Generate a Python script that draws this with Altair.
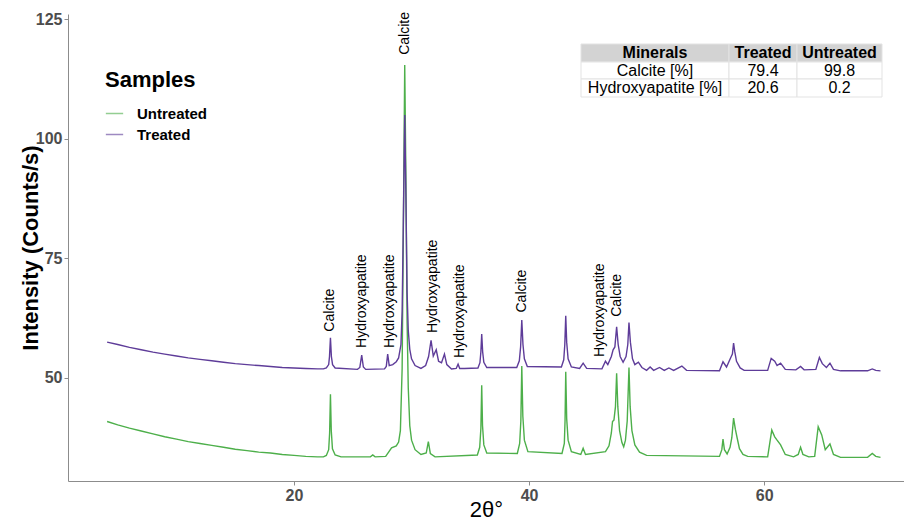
import altair as alt
import pandas as pd

# ---------------- data ----------------
treated_x = [4.1, 5, 6, 7, 8, 9, 10, 11, 12, 13, 14, 15, 16, 17, 18, 19, 20, 21, 22, 22.5,
             22.75, 22.95, 23.02, 23.1, 23.18, 23.28, 23.5, 25.4, 25.6, 25.76, 25.9, 26.1, 27.7, 27.85, 27.97, 28.1,
             28.4, 28.7, 28.9, 29.1, 29.2, 29.3, 29.42, 29.52, 29.62, 29.72, 29.85, 30.0, 30.3, 30.8, 31.2, 31.45, 31.66, 31.85,
             32.1, 32.3, 32.55, 32.8, 33.0, 33.4, 33.8, 33.96, 34.1, 34.5, 35.65, 35.82, 35.9, 35.97, 36.05, 36.15, 36.4,
             38.95, 39.17, 39.28, 39.38, 39.48, 39.6, 39.85, 42.75, 42.95, 43.04, 43.12, 43.2, 43.32, 43.6,
             44.3, 44.6, 44.9, 46.2, 46.5, 46.7, 47.0, 47.15, 47.3, 47.45, 47.58, 47.75, 48.0, 48.25, 48.4, 48.5,
             48.62, 48.8, 49.0, 49.3, 49.6, 50.0, 50.3, 50.6,
             51.1, 51.5, 51.9, 52.3, 53.0, 53.4, 56.2, 56.5, 56.8, 57.2, 57.3, 57.4, 57.5, 57.65, 57.96, 58.3, 60.3,
             60.6, 60.9, 61.1, 61.4, 61.8, 62.7, 63.1, 63.4, 64.4, 64.7, 64.95, 65.3, 65.6, 65.9, 66.5,
             68.8, 69.2, 69.5, 69.9]
treated_y = [57.5, 57.0, 56.4, 55.9, 55.4, 55.0, 54.6, 54.2, 53.9, 53.6, 53.3, 53.0, 52.8, 52.6, 52.4, 52.2, 52.1, 52.0, 51.9, 51.9,
             52.1, 52.8, 54.5, 58.4, 54.5, 52.8, 52.1, 51.8, 52.2, 54.8, 52.3, 51.8, 51.9, 52.4, 55.0, 52.6,
             52.8, 53.4, 54.2, 57.0, 64.0, 82.0, 105.0, 88.0, 68.0, 60.0, 56.0, 54.0, 52.6, 52.0, 52.6, 54.5, 57.9, 54.6,
             55.9, 53.5, 53.2, 55.0, 52.8, 51.9, 52.0, 52.9, 52.0, 52.0, 52.1, 53.2, 55.5, 59.2, 55.5, 53.3, 52.2,
             52.2, 53.6, 56.5, 62.1, 57.0, 54.0, 52.4, 52.3, 53.8, 57.0, 63.0, 57.5, 54.0, 52.3,
             52.0, 53.1, 52.0, 51.9, 53.5, 52.8, 54.5, 55.9, 56.5, 60.7, 57.0, 54.5, 53.3, 54.5, 57.0, 61.6,
             57.5, 54.0, 52.8, 53.3, 52.2, 51.6, 52.3, 51.6,
             52.2, 51.6, 52.1, 51.6, 52.5, 51.6, 51.5, 53.4, 52.3, 54.5, 55.0, 57.3, 55.5, 53.5, 52.1, 51.6, 51.6,
             54.1, 53.5, 52.6, 53.1, 51.8, 51.7, 52.4, 51.7, 51.8, 54.3, 53.0, 52.2, 53.1, 51.8, 51.5,
             51.5, 51.9, 51.6, 51.5]

untreated_x = [4.1, 5, 6, 7, 8, 9, 10, 11, 12, 13, 14, 15, 16, 17, 18, 19, 20, 21, 22, 22.5,
               22.75, 22.95, 23.03, 23.1, 23.17, 23.27, 23.5, 24, 26.5, 26.7, 26.9, 27.8, 28.3, 28.7, 28.9, 29.05,
               29.2, 29.3, 29.42, 29.52, 29.62, 29.72, 29.85, 30.0, 30.3, 30.8, 31.25, 31.43, 31.6, 32.0,
               35.6, 35.8, 35.9, 35.97, 36.04, 36.15, 36.4, 39.0, 39.2, 39.3, 39.38, 39.47, 39.6, 39.9,
               42.8, 43.0, 43.06, 43.12, 43.2, 43.32, 43.6, 44.4, 44.6, 44.8, 46.5, 46.8, 47.0, 47.1,
               47.22, 47.35, 47.45, 47.55, 47.7, 47.9, 48.05, 48.2, 48.35, 48.5, 48.6, 48.75, 49.0, 49.4, 50.0,
               56.2, 56.4, 56.5, 56.62, 56.85, 57.1, 57.25, 57.4, 57.55, 57.7, 57.9, 58.2, 58.6,
               60.3, 60.65, 60.9, 61.1, 61.4, 61.8, 62.5, 62.9, 63.1, 63.3, 63.8, 64.3, 64.6,
               64.9, 65.2, 65.6, 65.9, 66.5, 68.8, 69.2, 69.5, 69.9]
untreated_y = [40.9, 40.2, 39.5, 38.9, 38.3, 37.7, 37.2, 36.7, 36.3, 35.9, 35.5, 35.1, 34.8, 34.5, 34.3, 34.0, 33.8, 33.6, 33.5, 33.5,
               33.8, 35.0, 38.5, 46.6, 39.0, 35.2, 33.9, 33.5, 33.5, 33.9, 33.5, 33.6, 35.4, 35.8, 36.6, 39.0,
               52.0, 80.0, 115.5, 92.0, 62.0, 48.0, 40.0, 37.0, 35.0, 34.0, 34.3, 36.7, 34.2, 33.5,
               33.9, 35.5, 39.5, 48.5, 40.0, 36.0, 34.3, 34.2, 36.3, 41.0, 52.5, 42.0, 37.0, 34.6,
               34.2, 36.3, 41.0, 51.3, 41.5, 37.0, 34.6, 34.0, 35.3, 34.0, 34.6, 35.8, 38.5, 40.9,
               41.2, 44.0, 51.0, 44.0, 39.0, 36.5, 35.6, 37.0, 41.0, 52.2, 44.0, 39.0, 36.0, 34.5, 33.8,
               33.6, 35.0, 37.2, 35.0, 34.1, 35.5, 37.5, 41.6, 39.3, 37.5, 35.2, 34.0, 33.6,
               33.5, 39.1, 37.7, 37.0, 36.0, 34.0, 33.5, 34.0, 35.5, 34.0, 33.5, 33.6, 39.8,
               38.1, 35.0, 36.2, 34.0, 33.4, 33.4, 34.2, 33.6, 33.4]

label_text = ["Calcite", "Hydroxyapatite", "Hydroxyapatite", "Calcite", "Hydroxyapatite",
              "Hydroxyapatite", "Calcite", "Hydroxyapatite", "Calcite"]
label_x = [23.1, 25.8, 28.2, 29.45, 31.8, 34.1, 39.4, 46.0, 47.5]
label_y = [59.7, 56.3, 56.3, 117.6, 59.4, 54.2, 63.7, 54.4, 62.8]

table_header = ["Minerals", "Treated", "Untreated"]
table_minerals = ["Calcite [%]", "Hydroxyapatite [%]"]
table_treated = ["79.4", "20.6"]
table_untreated = ["99.8", "0.2"]

samples = ["Untreated", "Treated"]
colors = ["#4DAF4A", "#5E3C99"]

# ---------------- layout constants (pixels, plot-relative) ----------------
W, H = 836, 467
col_edges = [513, 661, 729, 814]
row_edges = [30, 48, 65, 83]
FONT = "Liberation Sans"

# ---------------- frames ----------------
lines = pd.concat([
    pd.DataFrame({"angle": untreated_x, "intensity": untreated_y, "sample": "Untreated"}),
    pd.DataFrame({"angle": treated_x, "intensity": treated_y, "sample": "Treated"}),
])
labels = pd.DataFrame({"angle": label_x, "intensity": label_y, "text": label_text})

rows = [table_header] + [[m, t, u] for m, t, u in zip(table_minerals, table_treated, table_untreated)]
cells = []
for r, row in enumerate(rows):
    for c, txt in enumerate(row):
        cells.append({
            "x0": col_edges[c], "x1": col_edges[c + 1],
            "y0": row_edges[r], "y1": row_edges[r + 1],
            "xc": (col_edges[c] + col_edges[c + 1]) / 2,
            "yc": (row_edges[r] + row_edges[r + 1]) / 2,
            "text": txt, "header": r == 0,
        })
cells = pd.DataFrame(cells)

xscale = alt.Scale(domain=[0.77, 71.9], nice=False, zero=False)
yscale = alt.Scale(domain=[28.45, 126.15], nice=False, zero=False)

xaxis = alt.Axis(values=[20, 40, 60], title="2θ°", grid=False, labelFont=FONT,
                 labelFontSize=16, labelFontWeight="bold", labelColor="#4D4D4D",
                 tickColor="#8C8C8C", domainColor="#8C8C8C", tickSize=4, labelPadding=2,
                 titleFont=FONT, titleFontSize=22, titleFontWeight="normal", titleColor="black",
                 titleY=28, titleBaseline="middle")
yaxis = alt.Axis(values=[50, 75, 100, 125], title="Intensity (Counts/s)", grid=False,
                 labelFont=FONT, labelFontSize=16, labelFontWeight="bold", labelColor="#4D4D4D",
                 tickColor="#8C8C8C", domainColor="#8C8C8C", tickSize=4, labelPadding=2,
                 titleFont=FONT, titleFontSize=22, titleFontWeight="bold", titleColor="black",
                 titleX=-38, titleY=H / 2, titleAngle=270, titleAlign="center",
                 titleBaseline="middle")

line_layer = alt.Chart(lines).mark_line(strokeWidth=1.4).encode(
    x=alt.X("angle:Q", scale=xscale, axis=xaxis),
    y=alt.Y("intensity:Q", scale=yscale, axis=yaxis),
    color=alt.Color("sample:N", scale=alt.Scale(domain=samples, range=colors),
                    legend=alt.Legend(title="Samples", orient="none", legendX=37, legendY=56,
                                      padding=0, titleFont=FONT, titleFontSize=22,
                                      titleFontWeight="bold", titleColor="black", titlePadding=12,
                                      labelFont=FONT, labelFontSize=15, labelFontWeight="bold",
                                      labelColor="black", symbolType="stroke", symbolSize=300,
                                      symbolStrokeWidth=1.5, symbolOpacity=0.6, labelOffset=13,
                                      rowPadding=3)),
    detail="sample:N",
    order=alt.Order("angle:Q"),
)

label_layer = alt.Chart(labels).mark_text(angle=270, align="left", baseline="middle",
                                           font=FONT, fontSize=14, color="black").encode(
    x=alt.X("angle:Q", scale=xscale),
    y=alt.Y("intensity:Q", scale=yscale),
    text="text:N",
)

cell_rect = alt.Chart(cells).mark_rect(stroke="#E3E3E3", strokeWidth=1).encode(
    x=alt.X("x0:Q", scale=None, axis=None),
    x2="x1:Q",
    y=alt.Y("y0:Q", scale=None, axis=None),
    y2="y1:Q",
    fill=alt.condition("datum.header", alt.value("#D3D3D3"), alt.value("white")),
)
cell_head = alt.Chart(cells).transform_filter("datum.header").mark_text(
    font=FONT, fontSize=16, fontWeight="bold", color="black", baseline="middle", align="center"
).encode(
    x=alt.X("xc:Q", scale=None, axis=None),
    y=alt.Y("yc:Q", scale=None, axis=None),
    text="text:N",
)
cell_body = alt.Chart(cells).transform_filter("!datum.header").mark_text(
    font=FONT, fontSize=16, color="black", baseline="middle", align="center"
).encode(
    x=alt.X("xc:Q", scale=None, axis=None),
    y=alt.Y("yc:Q", scale=None, axis=None),
    text="text:N",
)

chart = alt.layer(line_layer, label_layer, cell_rect, cell_head, cell_body).properties(
    width=W, height=H,
    autosize=alt.AutoSizeParams(type="none"),
    padding={"left": 68, "top": 14, "right": 0, "bottom": 44},
    background="white",
).configure_view(stroke=None)

chart.save("out.html", embed_options={"renderer": "svg", "actions": False})
